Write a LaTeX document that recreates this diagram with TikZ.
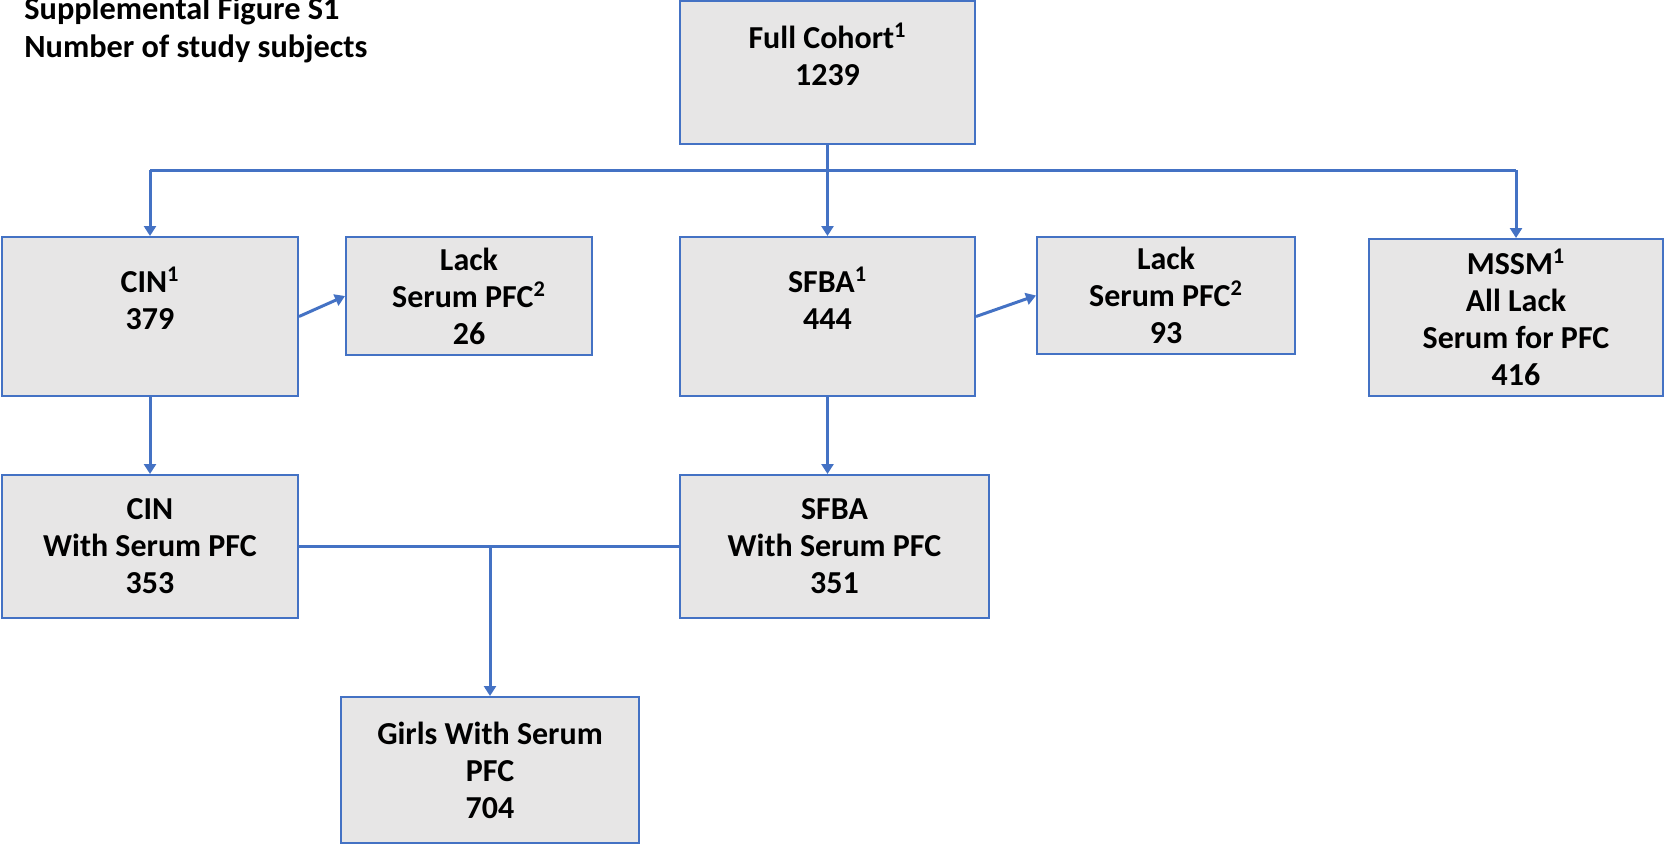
\documentclass[tikz,border=0pt]{standalone}
\usepackage{fontspec}
\setmainfont{Carlito}
\usetikzlibrary{arrows.meta}
\definecolor{linkblue}{HTML}{4472C4}
\definecolor{boxgray}{HTML}{E7E6E6}

\begin{document}
\begin{tikzpicture}[x=0.02cm, y=-0.02cm,
		box/.style 2 args={draw=linkblue, fill=boxgray, line width=0.04cm, inner sep=0pt, align=center,
			minimum width=#1*0.02cm, minimum height=#2*0.02cm, font=\bfseries\fontsize{18.2}{21}\selectfont},
		link/.style={draw=linkblue, line width=0.06cm},
		arr/.style={link, -{Triangle[length=0.2cm, width=0.24cm]}}]
			%%%%% START %%%%%
			\useasboundingbox (0, 0) rectangle (1665, 843);
			
			\node[anchor=north west, align=left, inner sep=0pt, font=\bfseries\fontsize{18.4}{21.8}\selectfont] (title) at (24, -4) {Supplemental Figure S1\\Number of study subjects};
			
			\node[box={295}{143}] (full) at (827.5, 72.5) {Full Cohort\textsuperscript{1}\\1239\\~};
			
			\node[box={296}{159}] (cin) at (150, 316.5) {CIN\textsuperscript{1}\\379\\~};
			\node[box={246}{118}] (lackcin) at (469, 296) {Lack\\Serum PFC\textsuperscript{2}\\26};
			\node[box={295}{159}] (sfba) at (827.5, 316.5) {SFBA\textsuperscript{1}\\444\\~};
			\node[box={258}{117}] (lacksfba) at (1166, 295.5) {Lack\\Serum PFC\textsuperscript{2}\\93};
			\node[box={294}{157}] (mssm) at (1516, 317.5) {MSSM\textsuperscript{1}\\All Lack\\Serum for PFC\\416};
			
			\node[box={296}{143}] (cinpfc) at (150, 546.5) {CIN\\With Serum PFC\\353};
			\node[box={309}{143}] (sfbapfc) at (834.5, 546.5) {SFBA\\With Serum PFC\\351};
			
			\node[box={298}{146}] (girls) at (490, 770) {Girls With Serum\\PFC\\704};
			
			% split of the full cohort
			\coordinate (split) at (827.5, 170);
			\draw[link] (full.south) -- (split);
			\draw[link] (cin.north |- split) -- (mssm.north |- split);
			\draw[arr] (cin.north |- split) -- (cin.north);
			\draw[arr] (split) -- (sfba.north);
			\draw[arr] (mssm.north |- split) -- (mssm.north);
			
			\draw[arr] (cin.east) -- (lackcin.west);
			\draw[arr] (sfba.east) -- (lacksfba.west);
			
			\draw[arr] (cin.south) -- (cinpfc.north);
			\draw[arr] (sfba.south) -- (sfba.south |- sfbapfc.north);
			
			% girls from both sites
			\draw[link] (cinpfc.east) -- (sfbapfc.west);
			\draw[arr] (girls.north |- cinpfc.east) -- (girls.north);
			
			%%%%% END %%%%%
		\end{tikzpicture}
\end{document}
